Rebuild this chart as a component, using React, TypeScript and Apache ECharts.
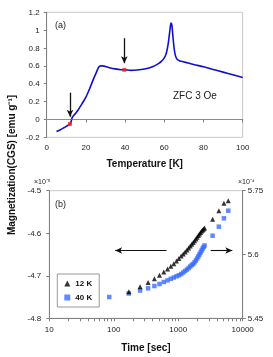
import React, { useEffect, useRef } from "react";
import * as echarts from "echarts";

// Panel (a): ZFC magnetization vs temperature
const temps = [5, 7, 9, 11, 12, 12.5, 13, 14, 15, 16, 17, 18, 20, 22, 24, 25.5, 26.5, 27.5, 28.5, 30, 32, 35, 38, 40, 43, 46, 50, 54, 57, 58.5, 60, 61, 62, 62.7, 63.2, 63.5, 63.9, 64.4, 65, 65.6, 66.5, 68, 70, 75, 80, 85, 90, 95, 100];
const magZFC = [-0.135, -0.115, -0.09, -0.065, -0.05, -0.02, 0.02, 0.05, 0.075, 0.105, 0.14, 0.175, 0.25, 0.35, 0.46, 0.535, 0.585, 0.6, 0.6, 0.593, 0.58, 0.566, 0.557, 0.555, 0.55, 0.553, 0.565, 0.59, 0.625, 0.65, 0.69, 0.74, 0.85, 0.97, 1.06, 1.08, 1.05, 0.93, 0.8, 0.72, 0.675, 0.655, 0.645, 0.615, 0.59, 0.56, 0.53, 0.5, 0.47];
const markedT = [11.9, 39.6];
const markedM = [-0.05, 0.556];

// Panel (b): relaxation vs time
const times = [85, 171, 256, 341, 427, 512, 597, 683, 768, 853, 939, 1024, 1109, 1195, 1280, 1365, 1451, 1536, 1621, 1707, 1792, 1877, 1963, 2048, 2133, 2219, 2304, 2389, 2475, 2560, 3413, 4267, 5120, 5973];
const times12K = times.slice(1);
const m12K = [-4.7375, -4.7257, -4.7158, -4.7069, -4.6987, -4.6912, -4.6841, -4.6778, -4.6716, -4.6653, -4.6594, -4.6535, -4.6488, -4.6441, -4.6394, -4.6347, -4.63, -4.626, -4.6218, -4.6176, -4.6136, -4.6096, -4.6053, -4.6018, -4.5983, -4.5948, -4.5924, -4.5901, -4.5877, -4.5672, -4.547, -4.5296, -4.5235];
const m40K = [5.5001, 5.5083, 5.5153, 5.5205, 5.5259, 5.5306, 5.5353, 5.5393, 5.5429, 5.5459, 5.5487, 5.5511, 5.5541, 5.5577, 5.5612, 5.5647, 5.5682, 5.5718, 5.5753, 5.5777, 5.5817, 5.5859, 5.5906, 5.5953, 5.6, 5.6047, 5.6094, 5.6141, 5.6176, 5.6212, 5.6442, 5.6654, 5.6851, 5.703];

const timeTicks = [10, 20, 30, 40, 50, 60, 70, 80, 90, 100, 200, 300, 400, 500, 600, 700, 800, 900, 1000, 2000, 3000, 4000, 5000, 6000, 7000, 8000, 9000, 10000];
const timeLabels = [10, 100, 1000, 10000];

const FONT = "Liberation Sans, Arial, sans-serif";
const AXIS = "#808080";
const LABEL = "#222";

export default function App() {
  const ref = useRef<HTMLDivElement>(null);
  useEffect(() => {
    if (!ref.current) return;
    const chart = echarts.init(ref.current, null, { renderer: "svg" });
    const fmt1 = (v: number) => String(parseFloat(v.toFixed(1)));
    const fmt2 = (v: number) => String(parseFloat(v.toFixed(2)));
    const fmtPlain = (v: number) => String(Math.round(v));
    const axisCommon = {
      axisLine: { show: true, lineStyle: { color: AXIS, width: 1 } },
      axisTick: { show: true, length: 3, inside: false, lineStyle: { color: AXIS } },
      splitLine: { show: false },
    };
    chart.setOption({
      animation: false,
      textStyle: { fontFamily: FONT },
      grid: [
        { left: 46.7, top: 12.3, width: 196, height: 125, show: true, borderColor: "#c8c8c8", borderWidth: 1, backgroundColor: "transparent" },
        { left: 49.3, top: 190.7, width: 193.4, height: 127.6, show: true, borderColor: "#c8c8c8", borderWidth: 1, backgroundColor: "transparent" },
      ],
      legend: {
        show: true,
        orient: "vertical",
        left: 57.3,
        top: 274,
        borderColor: "#999",
        borderWidth: 1,
        padding: [5, 7, 5, 7],
        itemWidth: 6,
        itemHeight: 6,
        itemGap: 5,
        textStyle: { fontFamily: FONT, fontSize: 8, fontWeight: "bold", color: "#111", lineHeight: 9 },
        data: [
          { name: "12 K", icon: "triangle" },
          { name: "40 K", icon: "rect" },
        ],
      },
      xAxis: [
        {
          gridIndex: 0, type: "value", min: 0, max: 100, interval: 20,
          ...axisCommon,
          axisLabel: { fontSize: 8, color: LABEL, margin: 6, fontFamily: FONT },
          name: "Temperature [K]", nameLocation: "middle", nameGap: 21,
          nameTextStyle: { fontSize: 10, fontWeight: "bold", color: "#111", fontFamily: FONT },
        },
        {
          gridIndex: 1, type: "log", logBase: 10, min: 10, max: 10000,
          axisLine: { show: true, lineStyle: { color: AXIS } },
          axisTick: { show: true, length: 3, customValues: timeTicks, lineStyle: { color: AXIS } },
          axisLabel: { fontSize: 8, color: LABEL, margin: 7, fontFamily: FONT, customValues: timeLabels, formatter: fmtPlain },
          splitLine: { show: false },
          minorTick: { show: false },
          name: "Time [sec]", nameLocation: "middle", nameGap: 24,
          nameTextStyle: { fontSize: 10, fontWeight: "bold", color: "#111", fontFamily: FONT },
        },
      ],
      yAxis: [
        {
          gridIndex: 0, type: "value", min: -0.2, max: 1.2, interval: 0.2,
          ...axisCommon,
          axisLabel: { fontSize: 8, color: LABEL, margin: 7, fontFamily: FONT, formatter: fmt1 },
        },
        {
          gridIndex: 1, type: "value", position: "left", min: -4.8, max: -4.5, interval: 0.1,
          ...axisCommon,
          axisLabel: { fontSize: 8, color: LABEL, margin: 8, fontFamily: FONT, formatter: fmt1 },
        },
        {
          gridIndex: 1, type: "value", position: "right", min: 5.45, max: 5.75, interval: 0.15,
          ...axisCommon,
          axisLabel: { fontSize: 8, color: LABEL, margin: 5, fontFamily: FONT, formatter: fmt2 },
        },
      ],
      series: [
        {
          type: "line",
          xAxisIndex: 0, yAxisIndex: 0,
          data: temps.map((t, i) => [t, magZFC[i]]),
          showSymbol: false,
          smooth: 0.25,
          lineStyle: { color: "#1010cc", width: 1.6 },
          itemStyle: { color: "#1010cc" },
          silent: true,
          markLine: {
            silent: true,
            symbol: ["none", "none"],
            label: { show: false },
            lineStyle: { color: "#999", type: "dotted", width: 1 },
            data: [{ yAxis: 0 }],
          },
        },
        {
          type: "scatter",
          xAxisIndex: 0, yAxisIndex: 0,
          data: markedT.map((t, i) => [t, markedM[i]]),
          symbol: "rect",
          symbolSize: 4,
          itemStyle: { color: "#ff2020" },
          z: 5,
          markLine: {
            silent: true,
            symbol: ["none", "arrow"],
            symbolSize: [5, 7],
            label: { show: false },
            lineStyle: { color: "#111", type: "solid", width: 1.3 },
            data: [
              [{ coord: [11.9, 0.3] }, { coord: [11.9, 0.03] }],
              [{ coord: [39.6, 0.91] }, { coord: [39.6, 0.63] }],
            ],
          },
        },
        {
          name: "12 K",
          type: "scatter",
          xAxisIndex: 1, yAxisIndex: 1,
          data: times12K.map((t, i) => [t, m12K[i]]),
          symbol: "triangle",
          symbolSize: 5,
          itemStyle: { color: "#000" },
          z: 4,
          markLine: {
            silent: true,
            symbol: ["none", "arrow"],
            symbolSize: [5, 7],
            label: { show: false },
            lineStyle: { color: "#111", type: "solid", width: 1.1 },
            data: [
              [{ coord: [658, -4.6406] }, { coord: [105, -4.6406] }],
              [{ coord: [3185, -4.6406] }, { coord: [6900, -4.6406] }],
            ],
          },
        },
        {
          name: "40 K",
          type: "scatter",
          xAxisIndex: 1, yAxisIndex: 2,
          data: times.map((t, i) => [t, m40K[i]]),
          symbol: "rect",
          symbolSize: 4.5,
          itemStyle: { color: "#3b6cff" },
          z: 3,
        },
      ],
      graphic: [
        { type: "text", left: 55, top: 20, style: { text: "(a)", fontSize: 9, fontFamily: FONT, fill: "#222" } },
        { type: "text", left: 173, top: 90, style: { text: "ZFC 3 Oe", fontSize: 10, fontFamily: FONT, fill: "#222" } },
        { type: "text", left: 55, top: 199, style: { text: "(b)", fontSize: 9, fontFamily: FONT, fill: "#222" } },
        { type: "text", left: 34, top: 178, style: { text: "×10⁻⁵", fontSize: 7, fontFamily: FONT, fill: "#222" } },
        { type: "text", left: 238, top: 178, style: { text: "×10⁻⁴", fontSize: 7, fontFamily: FONT, fill: "#222" } },
        {
          type: "text", x: 11, y: 165, rotation: Math.PI / 2,
          style: { text: "Magnetization(CGS) [emu g⁻¹]", fontSize: 10, fontWeight: "bold", fontFamily: FONT, fill: "#111", align: "center", verticalAlign: "middle" },
        },
      ],
    });
    return () => chart.dispose();
  }, []);
  return <div ref={ref} style={{ position: "fixed", left: 0, top: 0, width: 273, height: 357 }} />;
}
